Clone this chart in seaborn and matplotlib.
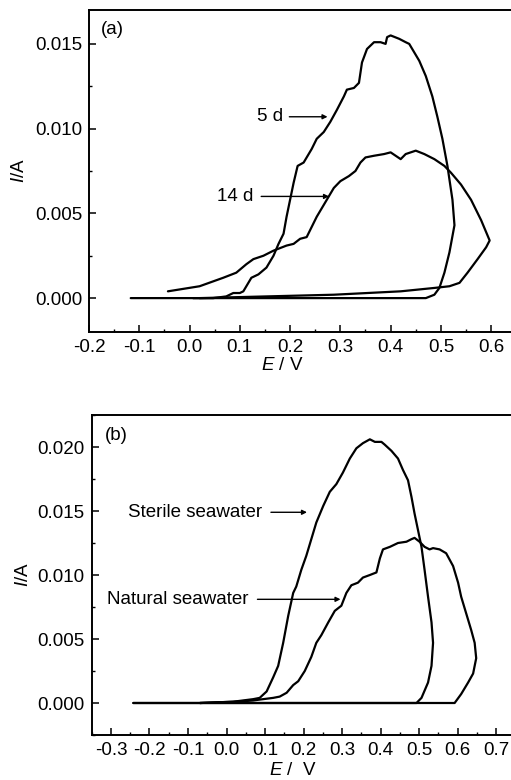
import numpy as np
import pandas as pd
import matplotlib
matplotlib.use("Agg")
import matplotlib.pyplot as plt
import seaborn as sns
from matplotlib.ticker import MultipleLocator, FuncFormatter

# ---------- Panel (a) data ----------
a_5d_E = [-0.117, 0.47, 0.487, 0.497, 0.507, 0.517, 0.527, 0.523, 0.513, 0.503, 0.493, 0.483,
          0.47, 0.457, 0.447, 0.437, 0.43, 0.417, 0.40, 0.393, 0.39, 0.38, 0.367, 0.353,
          0.343, 0.337, 0.327, 0.313, 0.307, 0.293, 0.28, 0.267, 0.253, 0.243, 0.227,
          0.215, 0.207, 0.20, 0.193, 0.187, 0.177, 0.167, 0.153, 0.137, 0.123, 0.113,
          0.107, 0.10, 0.087, 0.073, 0.047, 0.007]
a_5d_I = [0.0, 0.0, 0.0002, 0.0006, 0.0015, 0.0027, 0.0043, 0.0058, 0.0078, 0.0094, 0.0107, 0.0119,
          0.0131, 0.0140, 0.0145, 0.0150, 0.0151, 0.0153, 0.0155, 0.0154, 0.0150, 0.0151, 0.0151, 0.0147,
          0.0139, 0.0127, 0.0124, 0.0123, 0.0119, 0.0111, 0.0104, 0.0098, 0.0094, 0.0088, 0.0080,
          0.0078, 0.0068, 0.0058, 0.0048, 0.0038, 0.0032, 0.0025, 0.0018, 0.0014, 0.0012, 0.0007,
          0.0004, 0.0003, 0.0003, 0.0001, 0.0, 0.0]

a_14d_E = [-0.043, 0.02, 0.067, 0.093, 0.113, 0.127, 0.147, 0.167, 0.193, 0.207, 0.22, 0.233,
           0.243, 0.253, 0.263, 0.277, 0.287, 0.30, 0.317, 0.33, 0.34, 0.35, 0.367, 0.387,
           0.40, 0.41, 0.42, 0.43, 0.45, 0.467, 0.487, 0.507, 0.52, 0.54, 0.56, 0.58,
           0.597, 0.59, 0.573, 0.553, 0.537, 0.517, 0.487, 0.42, 0.287, 0.153, 0.02]
a_14d_I = [0.0004, 0.0007, 0.0012, 0.0015, 0.0020, 0.0023, 0.0025, 0.0028, 0.0031, 0.0032, 0.0035, 0.0036,
           0.0042, 0.0048, 0.0053, 0.0060, 0.0065, 0.0069, 0.0072, 0.0075, 0.0080, 0.0083, 0.0084, 0.0085,
           0.0086, 0.0084, 0.0082, 0.0085, 0.0087, 0.0085, 0.0082, 0.0078, 0.0074, 0.0067, 0.0058, 0.0046,
           0.0034, 0.0030, 0.0023, 0.0015, 0.0009, 0.0007, 0.0006, 0.0004, 0.0002, 0.0001, 0.0]

# ---------- Panel (b) data ----------
b_sterile_E = [-0.242, 0.493, 0.506, 0.523, 0.532, 0.536, 0.532, 0.523, 0.514, 0.506, 0.497, 0.488,
               0.48, 0.471, 0.458, 0.445, 0.428, 0.41, 0.402, 0.385, 0.372, 0.354, 0.337, 0.32,
               0.302, 0.285, 0.268, 0.251, 0.233, 0.22, 0.207, 0.194, 0.181, 0.173, 0.16, 0.147,
               0.134, 0.121, 0.104, 0.086, 0.069, 0.017, -0.069]
b_sterile_I = [0.0, 0.0, 0.0004, 0.0016, 0.0029, 0.0047, 0.0063, 0.0083, 0.0104, 0.0122, 0.0135, 0.0148,
               0.0161, 0.0174, 0.0182, 0.0191, 0.0197, 0.0202, 0.0204, 0.0204, 0.0206, 0.0203, 0.0199, 0.0191,
               0.0180, 0.0171, 0.0165, 0.0154, 0.0141, 0.0128, 0.0115, 0.0104, 0.0091, 0.0086, 0.0068, 0.0047,
               0.0029, 0.0020, 0.0009, 0.0004, 0.0003, 0.0001, 0.0]

b_natural_E = [-0.242, 0.592, 0.609, 0.627, 0.64, 0.648, 0.644, 0.635, 0.622, 0.609, 0.601, 0.588,
               0.57, 0.553, 0.536, 0.527, 0.514, 0.501, 0.488, 0.48, 0.467, 0.445, 0.424, 0.406,
               0.398, 0.389, 0.372, 0.354, 0.341, 0.324, 0.311, 0.298, 0.281, 0.264, 0.246, 0.233,
               0.22, 0.203, 0.186, 0.173, 0.156, 0.138, 0.121, 0.095, 0.069, 0.017, -0.069]
b_natural_I = [0.0, 0.0, 0.0007, 0.0016, 0.0023, 0.0035, 0.0047, 0.0057, 0.0070, 0.0083, 0.0094, 0.0107,
               0.0117, 0.0120, 0.0121, 0.0120, 0.0122, 0.0126, 0.0129, 0.0128, 0.0126, 0.0125, 0.0122, 0.0120,
               0.0113, 0.0102, 0.0100, 0.0098, 0.0094, 0.0092, 0.0086, 0.0076, 0.0072, 0.0063, 0.0053, 0.0047,
               0.0036, 0.0025, 0.0017, 0.0014, 0.0008, 0.0005, 0.0004, 0.0003, 0.0002, 0.0001, 0.0]

a_labels = ["5 d", "14 d"]
b_labels = ["Sterile seawater", "Natural seawater"]

sns.set_theme(style="ticks")
plt.rcParams['font.family'] = ['Liberation Sans', 'DejaVu Sans']
plt.rcParams['xtick.direction'] = 'in'
plt.rcParams['ytick.direction'] = 'in'
plt.rcParams['axes.unicode_minus'] = False
plt.rcParams['mathtext.fontset'] = 'custom'
plt.rcParams['mathtext.it'] = 'Liberation Sans:italic'
plt.rcParams['mathtext.rm'] = 'Liberation Sans'
plt.rcParams['text.color'] = 'black'
plt.rcParams['axes.labelcolor'] = 'black'
plt.rcParams['xtick.color'] = 'black'
plt.rcParams['ytick.color'] = 'black'

fig = plt.figure(figsize=(5.11, 7.8), dpi=100)
# panel a: x from -0.2 (px 89) to 0.65 (px 516)
axa = fig.add_axes([89/511, 1-332/780, (516.3-89)/511, (332-10)/780])
# panel b: x from -0.35 (px 91.7) to 0.75 (px 515.5)
axb = fig.add_axes([91.7/511, 1-735/780, (515.5-91.7)/511, (735-415)/780])

def df_of(E, I, name):
    return pd.DataFrame({"E": E, "I": I, "curve": name})

dfa = pd.concat([df_of(a_5d_E, a_5d_I, a_labels[0]), df_of(a_14d_E, a_14d_I, a_labels[1])])
dfb = pd.concat([df_of(b_sterile_E, b_sterile_I, b_labels[0]), df_of(b_natural_E, b_natural_I, b_labels[1])])

for ax, df in [(axa, dfa), (axb, dfb)]:
    sns.lineplot(data=df, x="E", y="I", units="curve", estimator=None, sort=False,
                 color="black", lw=1.6, ax=ax, legend=False)

fs = 13.5
for ax in (axa, axb):
    for s in ax.spines.values():
        s.set_linewidth(1.4)
        s.set_color("black")
    ax.tick_params(which="major", length=5, width=1.1, labelsize=fs, pad=5)
    ax.tick_params(which="minor", length=2.5, width=1.0)
    ax.set_ylabel("$\\mathit{I}$/A", fontsize=fs)
    ax.xaxis.set_major_locator(MultipleLocator(0.1))
    ax.xaxis.set_minor_locator(MultipleLocator(0.05))
    ax.yaxis.set_major_locator(MultipleLocator(0.005))
    ax.yaxis.set_minor_locator(MultipleLocator(0.0025))
    ax.xaxis.set_major_formatter(FuncFormatter(lambda v, p: "0.0" if abs(v) < 1e-9 else f"{v:.1f}"))
    ax.yaxis.set_major_formatter(FuncFormatter(lambda v, p: f"{v:.3f}"))

arrow = dict(arrowstyle="-|>", color="black", lw=1.0, mutation_scale=7)

# panel a
axa.set_xlim(-0.2, 0.65)
axa.set_ylim(-0.002, 0.017)
axa.set_xlabel("$\\mathit{E}$ / V", fontsize=fs)
axa.xaxis.set_label_coords(0.452, -0.077)
axa.yaxis.set_label_coords(-0.142, 0.5)
axa.text(-0.153, 0.01585, "(a)", fontsize=fs, ha="center", va="center")
axa.annotate("", xy=(0.28, 0.0107), xytext=(0.193, 0.0107), arrowprops=arrow)
axa.text(0.187, 0.0107, a_labels[0], fontsize=fs, ha="right", va="center")
axa.annotate("", xy=(0.283, 0.0060), xytext=(0.137, 0.0060), arrowprops=arrow)
axa.text(0.127, 0.0060, a_labels[1], fontsize=fs, ha="right", va="center")

# panel b
axb.set_xlim(-0.35, 0.75)
axb.set_ylim(-0.0025, 0.0225)
axb.set_xlabel("$\\mathit{E}$ /  V", fontsize=fs)
axb.xaxis.set_label_coords(0.475, -0.084)
axb.yaxis.set_label_coords(-0.142, 0.5)
axb.text(-0.285, 0.0209, "(b)", fontsize=fs, ha="center", va="center")
axb.annotate("", xy=(0.216, 0.0149), xytext=(0.108, 0.0149), arrowprops=arrow)
axb.text(0.093, 0.0149, b_labels[0], fontsize=fs, ha="right", va="center")
axb.annotate("", xy=(0.303, 0.0081), xytext=(0.073, 0.0081), arrowprops=arrow)
axb.text(0.056, 0.0081, b_labels[1], fontsize=fs, ha="right", va="center")

fig.savefig("out.png", dpi=100)
